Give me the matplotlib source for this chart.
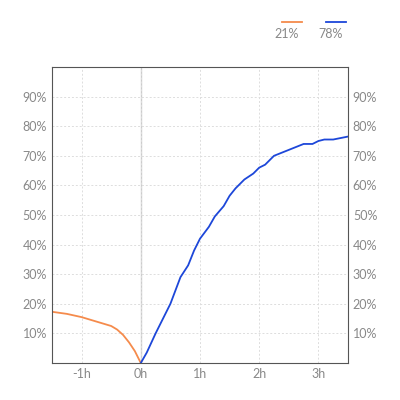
import matplotlib
matplotlib.use("Agg")
import matplotlib.pyplot as plt

before_x = [-1.5, -1.25, -1.0, -0.75, -0.5, -0.4, -0.3, -0.2, -0.1, 0.0]
before_y = [17.3, 16.6, 15.5, 14.0, 12.5, 11.3, 9.5, 7.0, 4.0, 0.0]
after_x = [0, 0.1, 0.25, 0.5, 0.67, 0.8, 0.9, 1.0, 1.15, 1.25, 1.4, 1.5, 1.6, 1.75, 1.9, 2.0, 2.1, 2.25, 2.5, 2.75, 2.9, 3.0, 3.1, 3.25, 3.5]
after_y = [0, 3.5, 10, 20, 29, 33, 38, 42, 46, 49.5, 53, 56.5, 59, 62, 64, 66, 67, 70, 72, 74, 74, 75, 75.5, 75.5, 76.5]
legend_labels = ["21%", "78%"]
xticks = [-1, 0, 1, 2, 3]
xticklabels = ["-1h", "0h", "1h", "2h", "3h"]
yticks = [10, 20, 30, 40, 50, 60, 70, 80, 90]

plt.rcParams['font.family'] = ['Lato', 'DejaVu Sans']
fig = plt.figure(figsize=(4, 4), dpi=100)
ax = fig.add_axes([0.13, 0.0925, 0.74, 0.74])
ax.plot(before_x, before_y, color='#f58b4c', lw=1.3, label=legend_labels[0])
ax.plot(after_x, after_y, color='#1d47d9', lw=1.3, label=legend_labels[1])
ax.axvline(0, color='#cccccc', lw=1, zorder=0)
ax.set_xlim(-1.5, 3.5)
ax.set_ylim(0, 100)
ax.set_xticks(xticks, xticklabels)
ax.set_yticks(yticks, [f"{v}%" for v in yticks])
ax.grid(True, color='#dddddd', ls=(0, (2, 2)), lw=0.7)
ax.tick_params(colors='#888888', labelsize=9, length=0, right=True, labelright=True)
for s in ax.spines.values():
    s.set_color('#555555'); s.set_linewidth(0.8)
ax.legend(loc='lower right', bbox_to_anchor=(1.0, 1.115), ncol=2, frameon=False,
          handlelength=1.6, fontsize=9, labelcolor='#888888', markerfirst=True,
          handletextpad=-2.2, columnspacing=2.2, borderaxespad=0)
leg = ax.get_legend()
for t in leg.get_texts():
    t.set_position((0, -12))
fig.savefig("out.png", dpi=100, facecolor='white')
